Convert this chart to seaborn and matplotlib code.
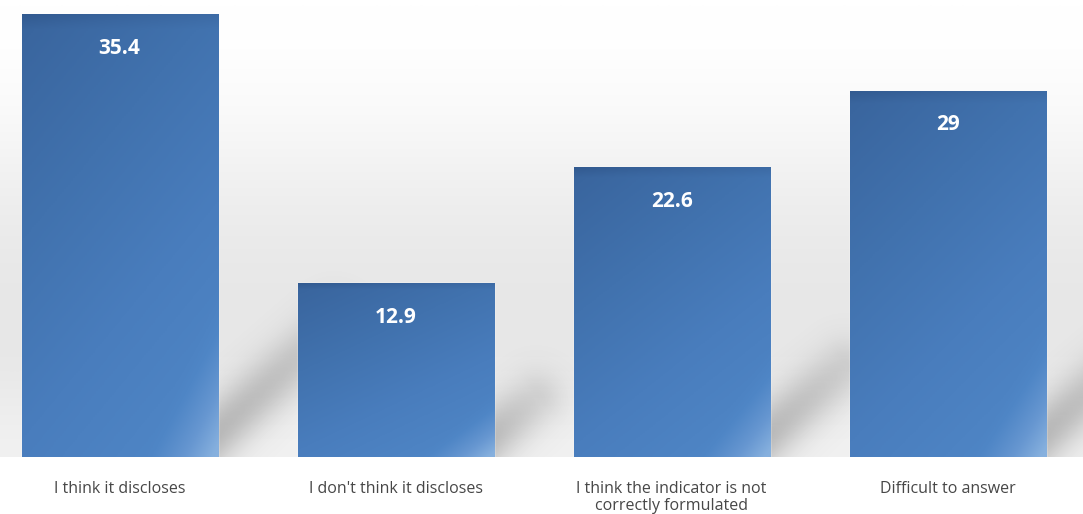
import numpy as np
import pandas as pd
import matplotlib
matplotlib.use("Agg")
import matplotlib.pyplot as plt
import seaborn as sns
from matplotlib.colors import LinearSegmentedColormap

categories = ["I think it discloses", "I don't think it discloses",
              "I think the indicator is not\ncorrectly formulated", "Difficult to answer"]
values = [35.4, 12.9, 22.6, 29]
value_labels = ["35.4", "12.9", "22.6", "29"]

df = pd.DataFrame({"answer": categories, "share": values})

sns.set_theme(style="white")
plt.rcParams['font.family'] = ['Open Sans', 'DejaVu Sans']

fig = plt.figure(figsize=(10.83, 5.14), dpi=100)
fig.patch.set_facecolor("white")
ax = fig.add_axes([0, 57 / 514, 1, 457 / 514])

sns.barplot(data=df, x="answer", y="share", color="#4274b0", width=0.71,
            saturation=1, ax=ax, zorder=3)

XMIN, XMAX, YMIN, YMAX = -0.433, 3.49, -1.64, 36.57
ax.set_xlim(XMIN, XMAX)
ax.set_ylim(YMIN, YMAX)

# background: soft vertical grey gradient
bg = np.array([[1.0], [0.99], [0.965], [0.935], [0.915], [0.905], [0.91], [0.945]])
bg_cmap = LinearSegmentedColormap.from_list("bg", ["#e0e0e0", "#ffffff"])
ax.imshow(np.repeat(bg, 2, axis=1), cmap=bg_cmap, vmin=0.88, vmax=1.0,
          extent=[XMIN, XMAX, YMIN, YMAX], aspect="auto",
          interpolation="bicubic", zorder=0)

# soft cast shadows (computed in pixel space of the axes)
W, H = 1083, 457
px, py = np.meshgrid(np.arange(W) + 0.5, np.arange(H) + 0.5)
alpha = np.zeros((H, W))
xscale = W / (XMAX - XMIN)
for p, v in zip(ax.patches, values):
    xr = (p.get_x() + p.get_width() - XMIN) * xscale
    L = 3.3 * v
    ax0, ay0 = xr - 10, H - 16
    ax1, ay1 = xr + L, H - 16 - L
    dx, dy = ax1 - ax0, ay1 - ay0
    t = np.clip(((px - ax0) * dx + (py - ay0) * dy) / (dx * dx + dy * dy), 0, 1)
    d2 = (px - ax0 - t * dx) ** 2 + (py - ay0 - t * dy) ** 2
    a = 0.40 * np.exp(-d2 / (2 * 19.0 ** 2)) * (1 - 0.5 * t)
    alpha = np.maximum(alpha, a)
shadow = np.zeros((H, W, 4))
shadow[..., :3] = 0.38
shadow[..., 3] = alpha
ax.imshow(shadow, extent=[XMIN, XMAX, YMIN, YMAX], aspect="auto",
          origin="upper", zorder=1, interpolation="bilinear")

# gradient fill for each bar
gx, gy = np.meshgrid(np.linspace(0, 1, 200), np.linspace(0, 1, 200))
grad = 0.2 + 0.8 * np.clip(0.35 * gx + 0.65 * gy, 0, 1)
grad[:8] -= np.linspace(0.15, 0, 8)[:, None]
corner = np.clip((gx + gy - 1.62) / 0.38, 0, 1)
grad = grad + 0.45 * corner ** 1.3
bar_cmap = LinearSegmentedColormap.from_list(
    "bar", ["#30578c", "#3a669f", "#4172ae", "#497dbd", "#4f86c6", "#6797d1", "#86b0de"])
for p, v in zip(ax.patches, values):
    x0, w = p.get_x(), p.get_width()
    y0 = YMIN
    p.set_y(y0)
    p.set_height(v - y0)
    im = ax.imshow(grad, cmap=bar_cmap, vmin=0, vmax=1.4, origin="upper",
                   extent=[x0, x0 + w, y0, v], aspect="auto", zorder=4,
                   interpolation="bilinear")
    im.set_clip_path(p)

for p, lab in zip(ax.patches, value_labels):
    ax.text(p.get_x() + p.get_width() / 2, p.get_height() + p.get_y() - 2.85, lab,
            ha="center", va="center", color="white", fontsize=15,
            fontweight="bold", zorder=6)

ax.set_xlabel("")
ax.set_ylabel("")
ax.set_yticks([])
ax.tick_params(axis="x", length=0, pad=17, labelsize=11.5, labelcolor="#474747")
for t in ax.get_xticklabels():
    t.set_linespacing(1.12)
for s in ax.spines.values():
    s.set_visible(False)

fig.savefig("out.png", dpi=100)
